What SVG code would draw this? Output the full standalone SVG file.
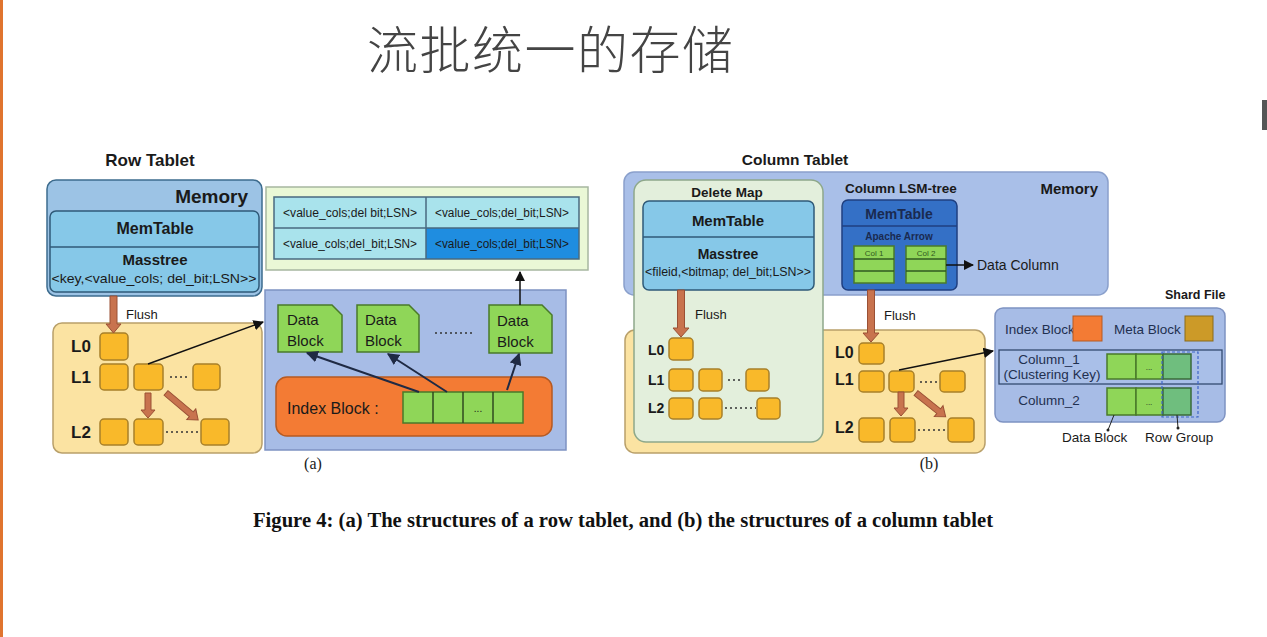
<svg xmlns="http://www.w3.org/2000/svg" width="1267" height="637" viewBox="0 0 1267 637">
<defs>
<style>
.t{font-family:"Liberation Sans",Arial,sans-serif;fill:#1a1a1a}
.b{font-weight:bold}
.c{text-anchor:middle}
.mem{fill:#9cc3e5;stroke:#3d6c8e;stroke-width:1.5}
.mt{fill:#86c8e8;stroke:#2f5a78;stroke-width:1.5}
.disk{fill:#fbe3a2;stroke:#b9a06a;stroke-width:1.5}
.sq{fill:#f9b92a;stroke:#a8802a;stroke-width:1.5}
.sst{fill:#a7bce6;stroke:#7e92c2;stroke-width:1.5}
.db{fill:#8fd658;stroke:#4a7a2a;stroke-width:1.5}
.blk{fill:#c8734e;stroke:#9a5035;stroke-width:1}
.dots{stroke:#333;stroke-width:1.5;stroke-dasharray:2 3;fill:none}
.ln{stroke:#111;stroke-width:1.5;fill:none}
.nv{stroke:#1f2a44;stroke-width:2;fill:none}
.sf{fill:#1f3050}
</style>
<marker id="ah" viewBox="0 0 10 10" refX="9" refY="5" markerWidth="7" markerHeight="7" orient="auto"><path d="M0,0 L10,5 L0,10 Z" fill="#111"/></marker>
<marker id="an" viewBox="0 0 10 10" refX="9" refY="5" markerWidth="6" markerHeight="6" orient="auto"><path d="M0,0 L10,5 L0,10 Z" fill="#1f2a44"/></marker>
</defs>
<rect x="0" y="0" width="1267" height="637" fill="#ffffff"/>
<rect x="0" y="0" width="3" height="637" fill="#e0742f"/>
<rect x="1262" y="100" width="5" height="30" fill="#555"/>

<text x="367" y="69" font-family="'Noto Sans CJK SC',sans-serif" font-size="51" font-weight="300" fill="#444" textLength="366">流批统一的存储</text>

<!-- (a) Row tablet -->
<g id="row-tablet-title"><text class="t b c" x="150" y="166" font-size="17">Row Tablet</text></g>

<g id="row-memory">
<rect class="mem" x="47" y="180" width="215" height="116" rx="9"/>
<text class="t b" x="248" y="203" font-size="19" text-anchor="end">Memory</text>
</g>
<g id="row-memtable">
<rect class="mt" x="50" y="211" width="209" height="81" rx="6"/>
<line x1="50" y1="247" x2="259" y2="247" stroke="#2f5a78" stroke-width="1.5"/>
<text class="t b c" x="155" y="234" font-size="16">MemTable</text>
<text class="t b c" x="155" y="265" font-size="15">Masstree</text>
<text class="t c" x="154" y="283" font-size="13.5" textLength="205" lengthAdjust="spacingAndGlyphs">&lt;key,&lt;value_cols; del_bit;LSN&gt;&gt;</text>
</g>

<g id="row-values">
<rect x="266" y="187" width="322" height="83" fill="#eaf8d6" stroke="#a7b7a0" stroke-width="1.5"/>
<rect x="274" y="197" width="152" height="31" fill="#a9e3ec"/>
<rect x="426" y="197" width="153" height="31" fill="#a9e3ec"/>
<rect x="274" y="228" width="152" height="31" fill="#a9e3ec"/>
<rect x="426" y="228" width="153" height="31" fill="#1f8de0"/>
<rect x="274" y="197" width="305" height="62" fill="none" stroke="#4a6a80" stroke-width="1.5"/>
<line x1="426" y1="197" x2="426" y2="259" stroke="#4a6a80" stroke-width="1.5"/>
<line x1="274" y1="228" x2="579" y2="228" stroke="#4a6a80" stroke-width="1.5"/>
<text class="t c" x="350" y="217" font-size="12" textLength="134" lengthAdjust="spacingAndGlyphs">&lt;value_cols;del bit;LSN&gt;</text>
<text class="t c" x="502" y="217" font-size="12" textLength="134" lengthAdjust="spacingAndGlyphs">&lt;value_cols;del_bit;LSN&gt;</text>
<text class="t c" x="350" y="248" font-size="12" textLength="134" lengthAdjust="spacingAndGlyphs">&lt;value_cols;del_bit;LSN&gt;</text>
<text class="t c" x="502" y="248" font-size="12" textLength="134" lengthAdjust="spacingAndGlyphs">&lt;value_cols;del_bit;LSN&gt;</text>
</g>

<g id="row-disk">
<rect class="disk" x="53" y="323" width="209" height="130" rx="9"/>
<text class="t b" x="71" y="352" font-size="17">L0</text>
<text class="t b" x="71" y="383" font-size="17">L1</text>
<text class="t b" x="71" y="438" font-size="17">L2</text>
<rect class="sq" x="100" y="333" width="28" height="27" rx="4"/>
<rect class="sq" x="100" y="364" width="28" height="26" rx="4"/>
<rect class="sq" x="134" y="364" width="29" height="26" rx="4"/>
<rect class="sq" x="193" y="364" width="27" height="26" rx="4"/>
<rect class="sq" x="100" y="419" width="28" height="26" rx="4"/>
<rect class="sq" x="134" y="419" width="29" height="26" rx="4"/>
<rect class="sq" x="201" y="419" width="28" height="26" rx="4"/>
<line class="dots" x1="170" y1="377" x2="190" y2="377"/>
<line class="dots" x1="166" y1="432" x2="200" y2="432"/>
</g>

<g id="row-sstable">
<rect class="sst" x="265" y="290" width="301" height="160"/>
<path class="db" d="M278,305 H332 L342,315 V352 H278 Z"/>
<path class="db" d="M357,305 H409 L419,315 V352 H357 Z"/>
<path class="db" d="M489,305 H542 L552,315 V353 H489 Z"/>
<text class="t" x="287" y="325" font-size="15" fill="#333">Data</text>
<text class="t" x="287" y="346" font-size="15" fill="#333">Block</text>
<text class="t" x="365" y="325" font-size="15" fill="#333">Data</text>
<text class="t" x="365" y="346" font-size="15" fill="#333">Block</text>
<text class="t" x="497" y="326" font-size="15" fill="#333">Data</text>
<text class="t" x="497" y="347" font-size="15" fill="#333">Block</text>
<line class="dots" x1="435" y1="333" x2="474" y2="333"/>
</g>
<g id="row-index-block">
<rect x="276" y="377" width="276" height="59" rx="11" fill="#f37b34" stroke="#b65a22" stroke-width="1.5"/>
<text class="t" x="287" y="414" font-size="16" fill="#333">Index Block :</text>
<rect class="db" x="403" y="392" width="120" height="31"/>
<line x1="433" y1="392" x2="433" y2="423" stroke="#2f4a1f" stroke-width="1.5"/>
<line x1="463" y1="392" x2="463" y2="423" stroke="#2f4a1f" stroke-width="1.5"/>
<line x1="493" y1="392" x2="493" y2="423" stroke="#2f4a1f" stroke-width="1.5"/>
<text class="t c" x="478" y="412" font-size="10">...</text>
</g>
<text class="t c" x="313" y="469" font-size="16" style="font-family:'Liberation Serif',serif">(a)</text>

<!-- (b) Column tablet -->
<g id="col-tablet-title"><text class="t b c" x="795" y="165" font-size="15.5">Column Tablet</text></g>
<g id="col-memory">
<rect x="624" y="172" width="484" height="123" rx="10" fill="#a9bfe8" stroke="#8aa0cc" stroke-width="1.5"/>
<text class="t b" x="1098" y="194" font-size="15" text-anchor="end">Memory</text>
<text class="t b" x="845" y="193" font-size="13.5">Column LSM-tree</text>
</g>
<g id="col-disk">
<rect class="disk" x="625" y="330" width="360" height="123" rx="10"/>
</g>
<g id="delete-map">
<rect x="634" y="180" width="189" height="262" rx="12" fill="#e3efdc" stroke="#8ea88a" stroke-width="1.5"/>
<text class="t b c" x="727" y="197" font-size="13.5">Delete Map</text>
<rect class="mt" x="643" y="201" width="171" height="89" rx="6"/>
<line x1="643" y1="237" x2="814" y2="237" stroke="#2f5a78" stroke-width="1.5"/>
<text class="t b c" x="728" y="226" font-size="15">MemTable</text>
<text class="t b c" x="728" y="259" font-size="14">Masstree</text>
<text class="t c" x="728" y="276" font-size="12" textLength="166" lengthAdjust="spacingAndGlyphs">&lt;fileid,&lt;bitmap; del_bit;LSN&gt;&gt;</text>
<text class="t b" x="648" y="355" font-size="14">L0</text>
<text class="t b" x="648" y="385" font-size="14">L1</text>
<text class="t b" x="648" y="413" font-size="14">L2</text>
<rect class="sq" x="669" y="338" width="24" height="22" rx="4"/>
<rect class="sq" x="669" y="369" width="24" height="22" rx="4"/>
<rect class="sq" x="699" y="369" width="23" height="22" rx="4"/>
<rect class="sq" x="746" y="369" width="23" height="22" rx="4"/>
<rect class="sq" x="669" y="398" width="24" height="21" rx="4"/>
<rect class="sq" x="699" y="398" width="23" height="21" rx="4"/>
<rect class="sq" x="757" y="398" width="23" height="21" rx="4"/>
<line class="dots" x1="728" y1="380" x2="743" y2="380"/>
<line class="dots" x1="725" y1="408" x2="756" y2="408"/>
</g>
<g id="col-memtable">
<rect x="842" y="200" width="115" height="90" rx="6" fill="#3470c6" stroke="#1f3f80" stroke-width="1.5"/>
<line x1="842" y1="226" x2="957" y2="226" stroke="#1f3f80" stroke-width="1.5"/>
<text class="t b c" x="899" y="219" font-size="14" style="fill:#1a2a50">MemTable</text>
<text class="t b c" x="899" y="240" font-size="10" style="fill:#1a2a50">Apache Arrow</text>
<rect class="db" x="854" y="246" width="40" height="37"/>
<rect class="db" x="906" y="246" width="40" height="37"/>
<line x1="854" y1="259" x2="894" y2="259" stroke="#2f5a20" stroke-width="1.5"/>
<line x1="854" y1="271" x2="894" y2="271" stroke="#2f5a20" stroke-width="1.5"/>
<line x1="906" y1="259" x2="946" y2="259" stroke="#2f5a20" stroke-width="1.5"/>
<line x1="906" y1="271" x2="946" y2="271" stroke="#2f5a20" stroke-width="1.5"/>
<text class="t c" x="874" y="256" font-size="8" style="fill:#2f5a20">Col 1</text>
<text class="t c" x="926" y="256" font-size="8" style="fill:#2f5a20">Col 2</text>
</g>
<g id="data-column-label"><text class="t" x="977" y="270" font-size="14">Data Column</text></g>
<g id="col-lsm-disk">
<text class="t b" x="835" y="358" font-size="16">L0</text>
<text class="t b" x="835" y="385" font-size="16">L1</text>
<text class="t b" x="835" y="433" font-size="16">L2</text>
<rect class="sq" x="859" y="343" width="25" height="21" rx="4"/>
<rect class="sq" x="859" y="371" width="25" height="21" rx="4"/>
<rect class="sq" x="889" y="371" width="25" height="21" rx="4"/>
<rect class="sq" x="940" y="371" width="25" height="21" rx="4"/>
<rect class="sq" x="859" y="418" width="25" height="24" rx="4"/>
<rect class="sq" x="890" y="418" width="25" height="24" rx="4"/>
<rect class="sq" x="948" y="418" width="26" height="24" rx="4"/>
<line class="dots" x1="920" y1="382" x2="937" y2="382"/>
<line class="dots" x1="918" y1="430" x2="947" y2="430"/>
</g>
<text class="t c" x="929" y="469" font-size="16" style="font-family:'Liberation Serif',serif">(b)</text>

<g id="shard-file">
<text class="t b" x="1165" y="299" font-size="12.5">Shard File</text>
<rect class="sst" x="995" y="308" width="230" height="114" rx="8"/>
<text class="t sf" x="1005" y="334" font-size="13.5">Index Block</text>
<rect x="1073" y="316" width="29" height="25" fill="#f37b34" stroke="#b65a22" stroke-width="1"/>
<text class="t sf" x="1114" y="334" font-size="13.5">Meta Block</text>
<rect x="1185" y="316" width="28" height="25" fill="#cc9a28" stroke="#8a6a1a" stroke-width="1"/>
<rect x="999" y="350" width="223" height="34" fill="#a9bfe8" stroke="#334a70" stroke-width="1.3"/>
<text class="t c sf" x="1049" y="364" font-size="13.5">Column_1</text>
<text class="t c sf" x="1052" y="379" font-size="13.5">(Clustering Key)</text>
<text class="t c sf" x="1049" y="405" font-size="13.5">Column_2</text>
<rect class="db" x="1107" y="354" width="29" height="25"/>
<rect class="db" x="1136" y="354" width="27" height="25"/>
<rect x="1163" y="354" width="28" height="25" fill="#6fbe7e" stroke="#3a6a3a" stroke-width="1.5"/>
<rect class="db" x="1107" y="388" width="29" height="27"/>
<rect class="db" x="1136" y="388" width="27" height="27"/>
<rect x="1163" y="388" width="28" height="27" fill="#6fbe7e" stroke="#3a6a3a" stroke-width="1.5"/>
<text class="t c" x="1149" y="370" font-size="8">...</text>
<text class="t c" x="1149" y="405" font-size="8">...</text>
<rect x="1162" y="352" width="36" height="65" fill="none" stroke="#3f66c8" stroke-width="1.2" stroke-dasharray="3 2"/>
<line x1="1114" y1="415" x2="1108" y2="430" stroke="#222" stroke-width="1"/>
<circle cx="1108" cy="430" r="1.5" fill="#222"/>
<line x1="1177" y1="415" x2="1178" y2="428" stroke="#222" stroke-width="1"/>
<circle cx="1178" cy="428" r="1.5" fill="#222"/>
<text class="t" x="1062" y="442" font-size="13.5">Data Block</text>
<text class="t" x="1145" y="442" font-size="13.5">Row Group</text>
</g>

<g id="connectors">
<polygon class="blk" points="110,296 117,296 117,324 121,324 113.5,333 106,324 110,324"/>
<text class="t" x="126" y="319" font-size="13">Flush</text>
<polygon class="blk" points="677.5,290 684.5,290 684.5,328 689,328 681,337 673,328 677.5,328"/>
<text class="t" x="695" y="319" font-size="13">Flush</text>
<polygon class="blk" points="867.5,290 874.5,290 874.5,333 879,333 871,342 863,333 867.5,333"/>
<text class="t" x="884" y="320" font-size="13">Flush</text>
<polygon class="blk" points="145,393 151,393 151,410 155,410 148,418 141,410 145,410"/>
<g transform="translate(166,393) rotate(40)"><polygon class="blk" points="0,-3 33,-3 33,-7 42,0 33,7 33,3 0,3"/></g>
<polygon class="blk" points="898,392 904,392 904,408 908,408 901,416 894,408 898,408"/>
<g transform="translate(916,393) rotate(38.7)"><polygon class="blk" points="0,-3 29,-3 29,-7 38,0 29,7 29,3 0,3"/></g>
<line class="ln" x1="148" y1="364" x2="263" y2="322" marker-end="url(#ah)"/>
<line class="ln" x1="520" y1="305" x2="520" y2="272" marker-end="url(#ah)"/>
<line class="ln" x1="899" y1="370" x2="993" y2="351" stroke-width="1.2" marker-end="url(#ah)"/>
<line class="ln" x1="946" y1="265" x2="973" y2="265" stroke-width="1.2" marker-end="url(#ah)"/>
<line class="nv" x1="419" y1="392" x2="307" y2="353" marker-end="url(#an)"/>
<line class="nv" x1="447" y1="392" x2="388" y2="354" marker-end="url(#an)"/>
<line class="nv" x1="507" y1="390" x2="519" y2="354" marker-end="url(#an)"/>
</g>

<text x="253" y="527" font-family="'Liberation Serif',serif" font-weight="bold" font-size="20" fill="#111" textLength="740" lengthAdjust="spacingAndGlyphs">Figure 4: (a) The structures of a row tablet, and (b) the structures of a column tablet</text>
</svg>
